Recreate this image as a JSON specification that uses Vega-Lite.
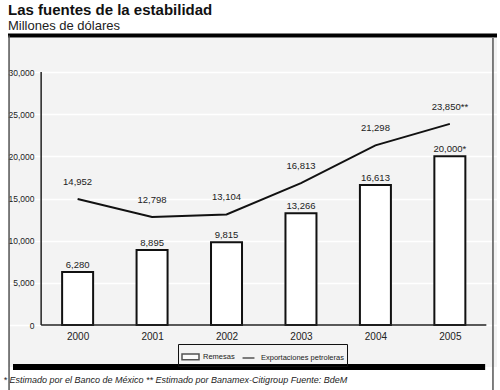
{
  "$schema": "https://vega.github.io/schema/vega-lite/v6.json",
  "width": 489,
  "height": 329,
  "autosize": {"type": "none"},
  "padding": {"left": 8, "top": 38, "right": 3, "bottom": 23},
  "background": "white",
  "title": {
    "text": "Las fuentes de la estabilidad",
    "subtitle": "Millones de dólares",
    "anchor": "start",
    "frame": "group",
    "font": "Liberation Sans",
    "fontSize": 15,
    "fontWeight": "bold",
    "color": "#111111",
    "subtitleFont": "Liberation Sans",
    "subtitleFontSize": 13,
    "subtitleColor": "#222222",
    "subtitlePadding": 2,
    "offset": 1
  },
  "datasets": {
    "d": [
      {"anio": 2000, "serie": "Remesas", "valor": 6280, "etiqueta": "6,280"},
      {"anio": 2001, "serie": "Remesas", "valor": 8895, "etiqueta": "8,895"},
      {"anio": 2002, "serie": "Remesas", "valor": 9815, "etiqueta": "9,815"},
      {"anio": 2003, "serie": "Remesas", "valor": 13266, "etiqueta": "13,266"},
      {"anio": 2004, "serie": "Remesas", "valor": 16613, "etiqueta": "16,613"},
      {"anio": 2005, "serie": "Remesas", "valor": 20000, "etiqueta": "20,000*"},
      {"anio": 2000, "serie": "Exportaciones petroleras", "valor": 14952, "etiqueta": "14,952"},
      {"anio": 2001, "serie": "Exportaciones petroleras", "valor": 12798, "etiqueta": "12,798"},
      {"anio": 2002, "serie": "Exportaciones petroleras", "valor": 13104, "etiqueta": "13,104"},
      {"anio": 2003, "serie": "Exportaciones petroleras", "valor": 16813, "etiqueta": "16,813"},
      {"anio": 2004, "serie": "Exportaciones petroleras", "valor": 21298, "etiqueta": "21,298"},
      {"anio": 2005, "serie": "Exportaciones petroleras", "valor": 23850, "etiqueta": "23,850**"}
    ],
    "one": [{}]
  },
  "data": {"name": "d"},
  "config": {
    "view": {"fill": "#f3f3f3", "stroke": null},
    "font": "Liberation Sans",
    "axis": {"labelFont": "Liberation Sans", "titleFont": "Liberation Sans"},
    "legend": {"labelFont": "Liberation Sans"}
  },
  "layer": [
    {
      "mark": {"type": "bar", "size": 31, "fill": "white", "stroke": "#111111", "strokeWidth": 2},
      "transform": [{"filter": "datum.serie === 'Remesas'"}],
      "encoding": {
        "x": {
          "field": "anio",
          "type": "quantitative",
          "scale": {"domain": [1999.132, 2005.566], "nice": false, "zero": false},
          "axis": {
            "values": [2000, 2001, 2002, 2003, 2004, 2005],
            "format": "d",
            "offset": -42,
            "domain": false,
            "ticks": false,
            "grid": false,
            "labelFontSize": 10,
            "labelColor": "#222222",
            "labelPadding": 6,
            "title": "* Estimado por el Banco de México ** Estimado por Banamex-Citigroup Fuente: BdeM",
            "titleFontStyle": "italic",
            "titleFontWeight": "normal",
            "titleFontSize": 9,
            "titleColor": "#222222",
            "titleAnchor": "start",
            "titleAlign": "left",
            "titleBaseline": "alphabetic",
            "titleX": -5,
            "titleY": 57
          }
        },
        "y": {
          "field": "valor",
          "type": "quantitative",
          "scale": {"domain": [-4980, 34032], "nice": false, "zero": false},
          "axis": {
            "values": [0, 5000, 10000, 15000, 20000, 25000, 30000],
            "format": ",d",
            "offset": -29,
            "domain": false,
            "ticks": false,
            "grid": true,
            "gridColor": "white",
            "gridWidth": 1.5,
            "labelFontSize": 8.5,
            "labelColor": "#222222",
            "labelPadding": 3,
            "title": null
          }
        },
        "y2": {"datum": 0}
      }
    },
    {
      "mark": {"type": "point", "size": 289, "filled": true, "fill": "white", "strokeWidth": 1.5},
      "transform": [{"filter": "datum.valor < 0"}],
      "encoding": {
        "x": {"field": "anio", "type": "quantitative"},
        "y": {"field": "valor", "type": "quantitative"},
        "stroke": {
          "field": "serie",
          "type": "nominal",
          "scale": {"domain": ["Remesas", "Exportaciones petroleras"], "range": ["#111111", "#111111"]},
          "legend": null
        },
        "shape": {
          "field": "serie",
          "type": "nominal",
          "scale": {"domain": ["Remesas", "Exportaciones petroleras"], "range": ["M-1,-0.33H1V0.33H-1Z", "M-0.7,0H0.7"]},
          "legend": {
            "orient": "none",
            "legendX": 170,
            "legendY": 306,
            "direction": "horizontal",
            "title": null,
            "strokeColor": "#111111",
            "padding": 3,
            "labelFontSize": 7.5,
            "labelColor": "#222222",
            "symbolSize": 289,
            "symbolStrokeWidth": 1.5,
            "symbolStrokeColor": "#111111",
            "symbolFillColor": "white",
            "labelOffset": 3,
            "columnPadding": 4
          }
        }
      }
    },
    {
      "data": {"name": "one"},
      "mark": {"type": "rule", "color": "#000000", "strokeWidth": 4, "clip": false},
      "encoding": {
        "y": {"datum": 34328, "type": "quantitative"}
      }
    },
    {
      "data": {"name": "one"},
      "mark": {"type": "rule", "color": "#222222", "strokeWidth": 1.5},
      "encoding": {
        "x": {"datum": 1999.51, "type": "quantitative"},
        "y": {"datum": 0, "type": "quantitative"},
        "y2": {"datum": 30000}
      }
    },
    {
      "data": {"name": "one"},
      "mark": {"type": "rule", "color": "#222222", "strokeWidth": 1.5},
      "encoding": {
        "x": {"datum": 1999.51, "type": "quantitative"},
        "x2": {"datum": 2005.49},
        "y": {"datum": 0, "type": "quantitative"}
      }
    },
    {
      "mark": {"type": "line", "strokeWidth": 2, "color": "#111111"},
      "transform": [{"filter": "datum.serie === 'Exportaciones petroleras'"}],
      "encoding": {
        "x": {"field": "anio", "type": "quantitative"},
        "y": {"field": "valor", "type": "quantitative"}
      }
    },
    {
      "mark": {"type": "text", "baseline": "middle", "dy": -7, "fontSize": 9.5, "color": "#222222"},
      "transform": [{"filter": "datum.serie === 'Remesas'"}],
      "encoding": {
        "x": {"field": "anio", "type": "quantitative"},
        "y": {"field": "valor", "type": "quantitative"},
        "text": {"field": "etiqueta"}
      }
    },
    {
      "mark": {"type": "text", "baseline": "middle", "dy": -17, "fontSize": 9.5, "color": "#222222"},
      "transform": [{"filter": "datum.serie === 'Exportaciones petroleras'"}],
      "encoding": {
        "x": {"field": "anio", "type": "quantitative"},
        "y": {"field": "valor", "type": "quantitative"},
        "text": {"field": "etiqueta"}
      }
    },
    {
      "data": {"name": "one"},
      "mark": {"type": "rule", "color": "#000000", "strokeWidth": 6, "clip": false},
      "encoding": {
        "x": {"datum": 1999.132, "type": "quantitative"},
        "x2": {"datum": 2005.474},
        "y": {"datum": -4980, "type": "quantitative"}
      }
    },
    {
      "data": {"name": "one"},
      "mark": {"type": "rule", "color": "#555555", "strokeWidth": 1.5, "clip": false},
      "encoding": {
        "x": {"datum": 1999.079, "type": "quantitative"},
        "y": {"datum": 34328, "type": "quantitative"},
        "y2": {"datum": -7707}
      }
    },
    {
      "data": {"name": "one"},
      "mark": {"type": "rule", "color": "#555555", "strokeWidth": 1.5, "clip": false},
      "encoding": {
        "x": {"datum": 2005.579, "type": "quantitative"},
        "y": {"datum": 34032, "type": "quantitative"},
        "y2": {"datum": -7707}
      }
    }
  ]
}
